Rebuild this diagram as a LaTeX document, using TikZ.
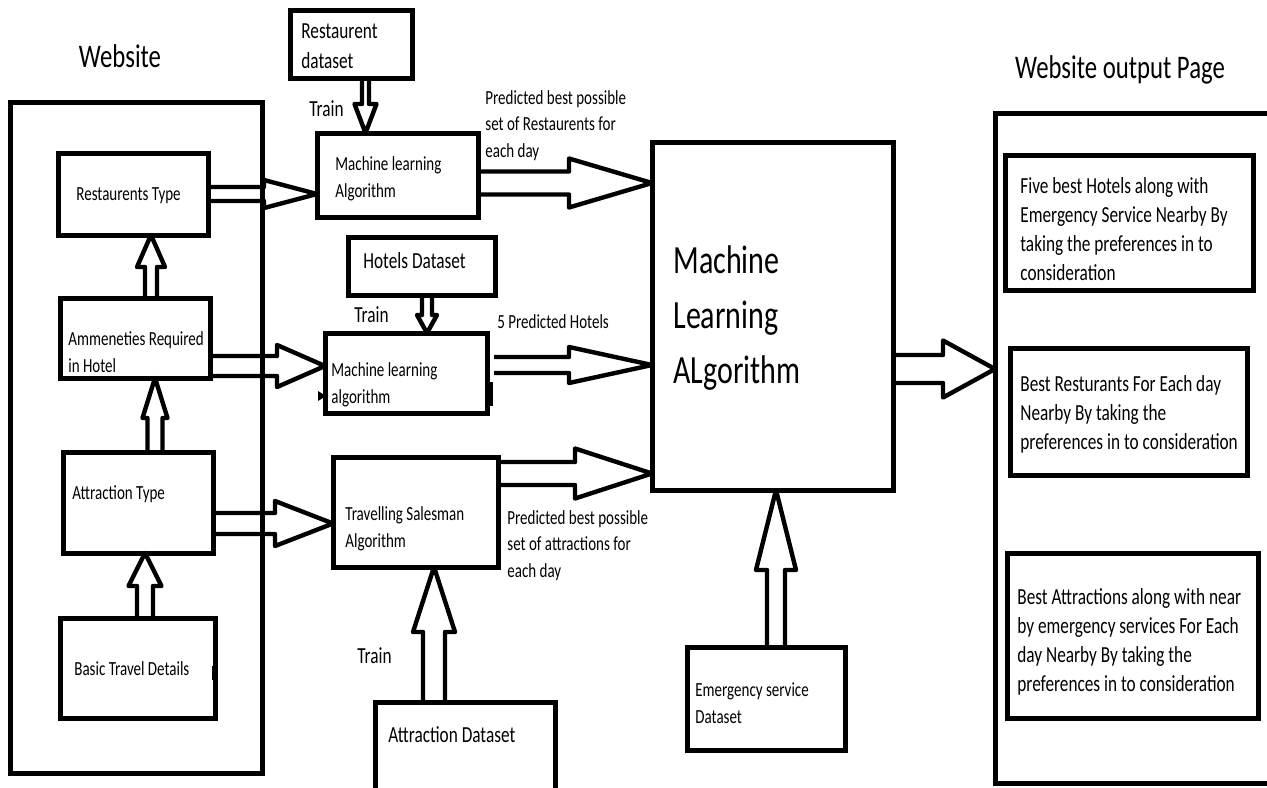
\documentclass[tikz,border=0pt]{standalone}
\usepackage{fontspec}
\setmainfont{Carlito}[FakeStretch=0.75]
\usetikzlibrary{calc}

% box given by its corners (x1,y1) and (x2,y2), one unit = one half point
\newcommand{\panel}[6][]{%
  \node[box,#1,minimum width={(#5-#3)*0.5pt},minimum height={(#6-#4)*0.5pt}]
    (#2) at ({(#3+#5)/2},{(#4+#6)/2}) {};}

% hollow block arrow: start, tip, shaft half width, head half width, head length
\newcommand{\fatarrow}[5]{%
  \coordinate (fa-s) at (#1);
  \coordinate (fa-t) at (#2);
  \coordinate (fa-h) at ($(fa-t)!#5!(fa-s)$);
  \draw[arrowline] ($(fa-s)!#3!90:(fa-t)$) -- ($(fa-h)!#3!-90:(fa-s)$)
    -- ($(fa-h)!#4!-90:(fa-s)$) -- (fa-t) -- ($(fa-h)!#4!90:(fa-s)$)
    -- ($(fa-h)!#3!90:(fa-s)$) -- ($(fa-s)!#3!-90:(fa-t)$);}

% text nodes are placed by the baseline of their last line
\tikzset{
  box/.style={draw, line width=2.5pt, inner sep=0pt, outer sep=0pt},
  arrowline/.style={draw, line width=2.2pt, line join=round},
  small/.style={font=\fontsize{10}{13.25}\selectfont, inner sep=0pt, align=left, anchor=base west},
  mid/.style={font=\fontsize{11.5}{15}\selectfont, inner sep=0pt, align=left, anchor=base west},
  rtext/.style={font=\fontsize{11.5}{14.5}\selectfont, inner sep=0pt, align=left, anchor=base west},
  big/.style={font=\fontsize{20}{27.5}\selectfont, inner sep=0pt, align=left, anchor=base west},
  title/.style={font=\fontsize{16.5}{20}\selectfont, inner sep=0pt, anchor=base},
}

\begin{document}
\begin{tikzpicture}[x=0.5pt, y=-0.5pt]
\fill[white] (0,0) rectangle (1267,787);
\useasboundingbox (0,0) rectangle (1267,787);

% ---- boxes ----
\panel{web}{10}{102}{262}{773}
\panel{rt}{58}{153}{208}{235}
\panel{am}{60}{298}{210}{378}
\panel{at}{63}{452}{213}{553}
\panel{bt}{60}{618}{215}{718}
\panel{rd}{290}{10}{412}{78}
\panel{ml1}{317}{133}{478}{217}
\panel{hd}{348}{237}{495}{295}
\panel{ml2}{325}{333}{487}{413}
\panel{tsp}{333}{457}{498}{567}
\panel{ad}{375}{702}{555}{800}
\panel{big}{652}{142}{893}{490}
\panel{em}{687}{647}{845}{750}
\panel{out}{995}{113}{1290}{783}
\panel{o1}{1005}{155}{1253}{290}
\panel{o2}{1010}{348}{1247}{475}
\panel{o3}{1007}{553}{1258}{718}

% ---- texts ----
\node[title] (web-t) at (120,67) {Website};
\node[title] (out-t) at (1120,78) {Website output Page};
\node[mid] (rd-t) at (301,68) {Restaurent\\dataset};
\node[mid] (tr1) at (309,116) {Train};
\node[small] (rt-t) at (76,200) {Restaurents Type};
\node[small] (ml1-t) at (335,197) {Machine learning\\Algorithm};
\node[small] (p1) at (485,157) {Predicted best possible\\set of Restaurents for\\each day};
\node[mid] (hd-t) at (363,268) {Hotels Dataset};
\node[mid] (tr2) at (354,322) {Train};
\node[small] (p2) at (497,328) {5 Predicted Hotels};
\node[small] (am-t) at (68,372) {Ammeneties Required\\in Hotel};
\node[small] (ml2-t) at (331,403) {Machine learning\\algorithm};
\node[small] (at-t) at (72,499) {Attraction Type};
\node[small] (tsp-t) at (345,547) {Travelling Salesman\\Algorithm};
\node[small] (p3) at (507,577) {Predicted best possible\\set of attractions for\\each day};
\node[mid] (tr3) at (357,663) {Train};
\node[mid] (ad-t) at (388,742) {Attraction Dataset};
\node[small] (bt-t) at (74,675) {Basic Travel Details};
\node[small] (em-t) at (695,723) {Emergency service\\Dataset};
\node[big] (big-t) at (673,383) {Machine\\Learning\\ALgorithm};
\node[rtext] (o1-t) at (1020,280) {Five best Hotels along with\\Emergency Service Nearby By\\taking the preferences in to\\consideration};
\node[rtext] (o2-t) at (1020,449) {Best Resturants For Each day\\Nearby By taking the\\preferences in to consideration};
\node[rtext] (o3-t) at (1017,691) {Best Attractions along with near\\by emergency services For Each\\day Nearby By taking the\\preferences in to consideration};

% ---- block arrows ----
\coordinate (a1) at (rt.east);
\fatarrow{a1}{a1 -| ml1.west}{3.5pt}{7pt}{26.5pt}
\coordinate (a2) at ($(am.east)+(0,28)$);
\fatarrow{a2}{a2 -| ml2.west}{5pt}{10.5pt}{24pt}
\coordinate (a3) at ($(at.east)+(0,21)$);
\fatarrow{a3}{a3 -| tsp.west}{5.25pt}{11.25pt}{29pt}
\coordinate (a4) at ($(ml1.east)+(0,8)$);
\fatarrow{a4}{a4 -| big.west}{5.75pt}{12.25pt}{41.5pt}
\coordinate (a5) at ($(ml2.east)+(7,-8)$);
\fatarrow{a5}{a5 -| big.west}{4pt}{9pt}{41.5pt}
\coordinate (a6) at ($(tsp.east)+(0,-38.5)$);
\fatarrow{a6}{a6 -| big.west}{5.75pt}{12.5pt}{38.5pt}
\coordinate (a7) at ($(big.east)+(0,53)$);
\fatarrow{a7}{a7 -| out.west}{7pt}{14.25pt}{26pt}

\coordinate (v1) at ($(am.north)+(16,0)$);
\fatarrow{v1}{v1 |- rt.south}{3pt}{7pt}{16pt}
\coordinate (v2) at ($(at.north)+(17,0)$);
\fatarrow{v2}{v2 |- am.south}{3.75pt}{6.25pt}{20pt}
\coordinate (v3) at ($(bt.north)+(7.5,0)$);
\fatarrow{v3}{v3 |- at.south}{4pt}{8.25pt}{16.5pt}
\coordinate (v4) at ($(ad.north)+(-31,0)$);
\fatarrow{v4}{v4 |- tsp.south}{5.5pt}{10.5pt}{32.5pt}
\coordinate (v5) at ($(em.north)+(10,0)$);
\fatarrow{v5}{v5 |- big.south}{4.5pt}{10pt}{40pt}

\coordinate (d1) at ($(rd.south)+(14.5,0)$);
\fatarrow{d1}{d1 |- ml1.north}{1.75pt}{5.5pt}{14.5pt}
\coordinate (d2) at ($(hd.south)+(5.5,0)$);
\fatarrow{d2}{d2 |- ml2.north}{2.5pt}{5pt}{9pt}

% ---- small pen marks on box edges ----
\fill (318,391) -- (326,396) -- (318,401) -- cycle;
\draw[line width=1.6pt] (487,384) -- (491,384) -- (491,404) -- (487,404);
\fill (212,666) rectangle (217,680);
\end{tikzpicture}
\end{document}
